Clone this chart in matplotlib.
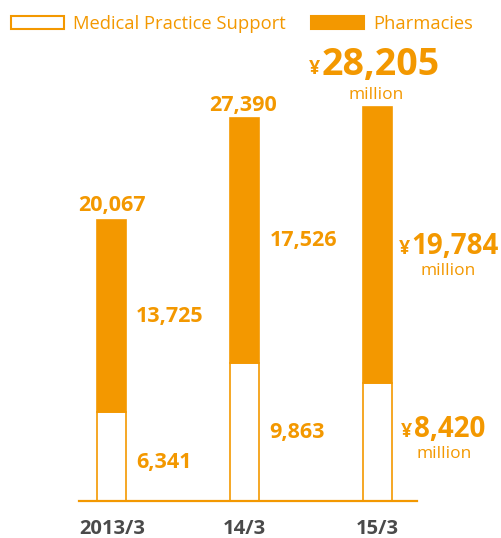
import matplotlib
matplotlib.use("Agg")
import matplotlib.pyplot as plt
from matplotlib.patches import Patch

# ---- data ----
categories = ["2013/3", "14/3", "15/3"]
medical = [6341, 9863, 8420]
pharmacies = [13725, 17526, 19784]
totals = [20067, 27390, 28205]
series_names = ["Medical Practice Support", "Pharmacies"]

ORANGE = "#F39800"
GREY = "#4a4a4a"
FONT = "Open Sans"

W, H = 502, 538
fig = plt.figure(figsize=(W / 100, H / 100), dpi=100)
ax = fig.add_axes([0, 0, 1, 1])
ax.set_xlim(-0.8437, 2.938)
ax.set_ylim(-2646, 35822)
ax.axis("off")

x = list(range(len(categories)))
bw = 0.2185
b1 = ax.bar(x, medical, width=bw, color="white", edgecolor=ORANGE, linewidth=1.2,
            label=series_names[0], zorder=2)
b2 = ax.bar(x, pharmacies, width=bw, bottom=medical, color=ORANGE, edgecolor=ORANGE,
            linewidth=1.2, label=series_names[1], zorder=2)

# baseline
ax.axhline(0, xmin=79 / W, xmax=417 / W, color=ORANGE, lw=1.6, zorder=3)

# category labels
for i, c in enumerate(categories):
    ax.annotate(c, xy=(i, 0), xytext=(0, -33), textcoords="offset pixels",
                ha="center", va="baseline", fontsize=14.5, fontweight="bold",
                color=GREY, family=FONT)

def lab(text, xy, dx, dy, size, ha="left", weight="bold"):
    ax.annotate(text, xy=xy, xytext=(dx, dy), textcoords="offset pixels",
                ha=ha, va="baseline", fontsize=size, fontweight=weight,
                color=ORANGE, family=FONT)

right = [i + bw / 2 for i in x]
mid_m = [m / 2 for m in medical]
mid_p = [m + p / 2 for m, p in zip(medical, pharmacies)]

# first two bars: plain labels
lab(f"{totals[0]:,}", (0, totals[0]), 0, 9, 15.5, ha="center")
lab(f"{pharmacies[0]:,}", (right[0], mid_p[0]), 9, -6, 15.5)
lab(f"{medical[0]:,}", (right[0], mid_m[0]), 10, -11, 15.5)

lab(f"{totals[1]:,}", (1, totals[1]), -2, 7, 15.5, ha="center")
lab(f"{pharmacies[1]:,}", (right[1], mid_p[1]), 10.5, -5.5, 15.5)
lab(f"{medical[1]:,}", (right[1], mid_m[1]), 10.5, -5.5, 15.5)

# last bar: yen labels
lab(f"{totals[2]:,}", (2, totals[2]), -55.5, 32, 27)
lab("¥", (2, totals[2]), -57, 33, 14, ha="right")
lab("million", (2, totals[2]), -1, 8, 12.5, ha="center", weight="normal")

lab(f"{pharmacies[2]:,}", (right[2], mid_p[2]), 19.5, -9.5, 20)
lab("¥", (right[2], mid_p[2]), 18, -9.5, 14, ha="right")
lab("million", (right[2], mid_p[2]), 56.5, -30.5, 12.5, ha="center", weight="normal")

lab(f"{medical[2]:,}", (right[2], mid_m[2]), 22.5, 5, 20)
lab("¥", (right[2], mid_m[2]), 20, 5, 14, ha="right")
lab("million", (right[2], mid_m[2]), 52.5, -16, 12.5, ha="center", weight="normal")

# legend
handles = [Patch(facecolor="white", edgecolor=ORANGE, linewidth=1.5),
           Patch(facecolor=ORANGE, edgecolor=ORANGE, linewidth=1.5)]
leg = fig.legend(handles, series_names, loc="upper left",
                 bbox_to_anchor=(11 / W, 1 - 15 / H), ncol=2, frameon=False,
                 borderpad=0, borderaxespad=0, handlelength=2.9, handleheight=0.66,
                 handletextpad=0.49, columnspacing=1.37,
                 prop={"family": FONT, "size": 13.2})
for t in leg.get_texts():
    t.set_color(ORANGE)

fig.savefig("out.png", dpi=100)
